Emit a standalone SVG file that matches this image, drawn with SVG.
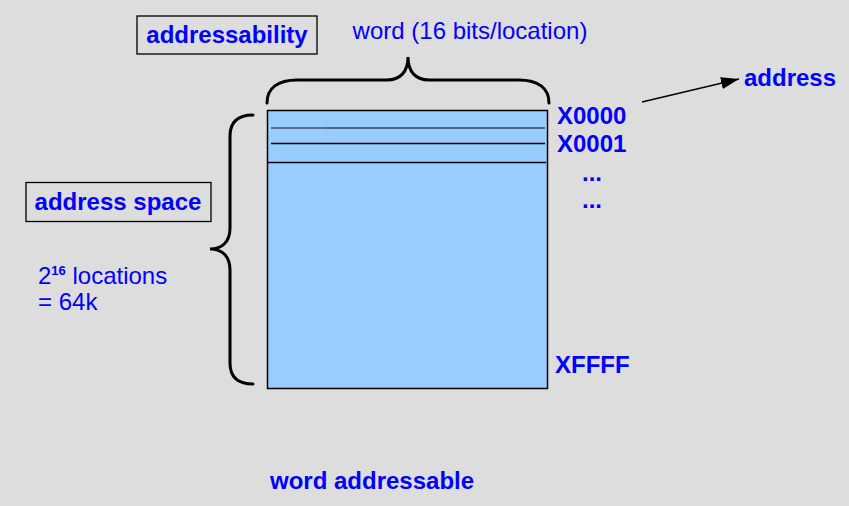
<svg xmlns="http://www.w3.org/2000/svg" width="849" height="506" viewBox="0 0 849 506">
<defs>
<style>
.t{font-family:"Liberation Sans",Arial,sans-serif;font-size:24px;fill:#0000ff}
.b{font-weight:bold}
.box{fill:none;stroke:#000;stroke-width:1.3}
.brace{fill:none;stroke:#000;stroke-width:3;stroke-linecap:round}
.ln{stroke:#000;stroke-width:1.3}
</style>
<marker id="ah" viewBox="0 0 18 12" refX="18" refY="6" markerWidth="18" markerHeight="12" markerUnits="userSpaceOnUse" orient="auto">
<path d="M0,0 L18,6 L0,12 Z" fill="#000"/>
</marker>
</defs>
<rect width="849" height="506" fill="#dddddd"/>

<g id="memory">
<rect x="267.5" y="110.5" width="280" height="278" fill="#99ccff" stroke="#000" stroke-width="1.5"/>
<line x1="271" y1="128" x2="545" y2="128" stroke="#2f4a63" stroke-width="1.4"/>
<line x1="271" y1="128" x2="324" y2="128" stroke="#5a7088" stroke-width="2"/>
<line class="ln" x1="271" y1="143.5" x2="545" y2="143.5"/>
<line class="ln" x1="267" y1="162.5" x2="546" y2="162.5"/>
</g>

<g id="addressability">
<rect class="box" x="137" y="16" width="180" height="38" fill="none"/>
<text class="t b" x="227" y="43" text-anchor="middle">addressability</text>
</g>

<g id="word-brace">
<path class="brace" d="M267,103 C267,88 278,80 297,80 L387,80 C400,80 408,72 408,57 C408,72 416,80 429,80 L519,80 C538,80 549,88 549,103"/>
<text class="t" x="470" y="39" text-anchor="middle">word (16 bits/location)</text>
</g>

<g id="address-space">
<rect class="box" x="26" y="182.5" width="185" height="39"/>
<text class="t b" x="118" y="210" text-anchor="middle">address space</text>
</g>

<g id="space-brace">
<path class="brace" d="M253,115 C238,115 230,122 230,136 L230,228 C230,242 222,249 210,249 C222,249 230,256 230,270 L230,363 C230,377 238,384 253,384"/>
</g>

<g id="locations">
<text class="t" x="38" y="284">2<tspan font-size="13" font-weight="bold" dy="-9">16</tspan><tspan dy="9"> locations</tspan></text>
<text class="t" x="38" y="310">= 64k</text>
</g>

<g id="addresses">
<text class="t b" x="557" y="124">X0000</text>
<text class="t b" x="557" y="152">X0001</text>
<text class="t b" x="582" y="181">...</text>
<text class="t b" x="582" y="208">...</text>
<text class="t b" x="555" y="373">XFFFF</text>
</g>

<g id="address">
<text class="t b" x="744" y="86">address</text>
</g>

<g id="connectors">
<line x1="642" y1="102" x2="739" y2="79" stroke="#000" stroke-width="1.3" marker-end="url(#ah)"/>
</g>

<g id="caption">
<text class="t b" x="270" y="489">word addressable</text>
</g>
</svg>
